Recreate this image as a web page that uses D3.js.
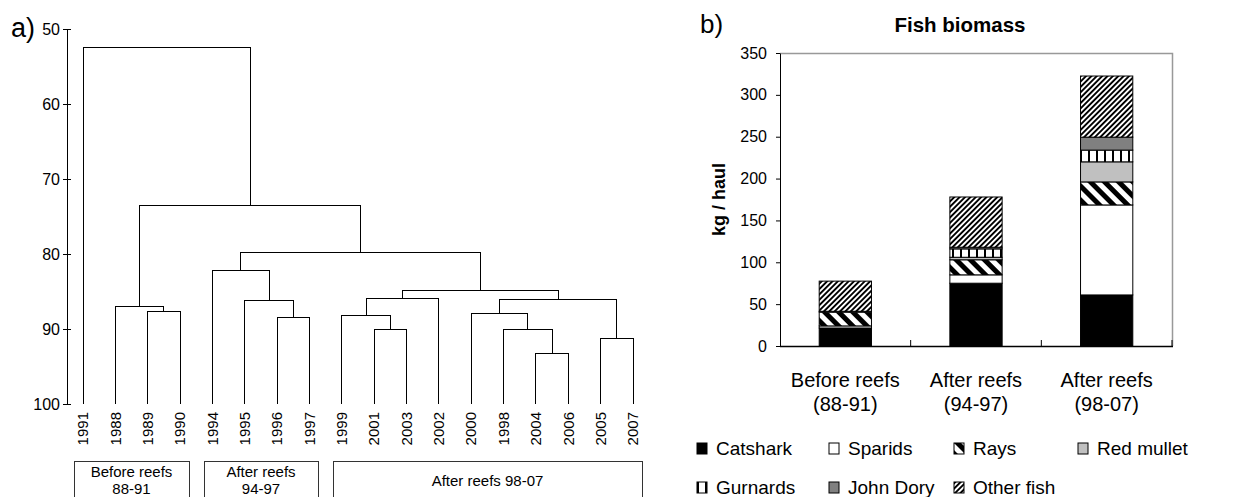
<!DOCTYPE html>
<html>
<head>
<meta charset="utf-8">
<script src="https://cdn.jsdelivr.net/npm/d3@7"></script>
<style>
  body { margin: 0; background: #fff; }
  svg { font-family: "Liberation Sans", Arial, sans-serif; display: block; }
</style>
</head>
<body>
<script>
// ---- panel a) dendrogram data ----
const leaves = ["1991","1988","1989","1990","1994","1995","1996","1997","1999",
                "2001","2003","2002","2000","1998","2004","2006","2005","2007"]

// linkage: [childA, childB, height], new node ids start at leaves.length
const merges = [
    [2, 3, 87.6],
    [1, 18, 87.0],
    [6, 7, 88.5],
    [5, 20, 86.2],
    [4, 21, 82.2],
    [9, 10, 90.0],
    [8, 23, 88.2],
    [24, 11, 85.9],
    [14, 15, 93.2],
    [13, 26, 90.0],
    [12, 27, 87.9],
    [16, 17, 91.3],
    [28, 29, 86.0],
    [25, 30, 84.8],
    [22, 31, 79.8],
    [19, 32, 73.5],
    [0, 33, 52.5]
]

const dendroTicks = [50, 60, 70, 80, 90, 100]
const groupLabels = [["Before reefs", "88-91"], ["After reefs", "94-97"], ["After reefs 98-07"]]
const groupLeaves = [[0, 3], [4, 7], [8, 17]]

// ---- panel b) biomass data ----
const periods = ["Before reefs", "After reefs", "After reefs"]
const periodYears = ["(88-91)", "(94-97)", "(98-07)"]
const species = ["Catshark", "Sparids", "Rays", "Red mullet", "Gurnards", "John Dory", "Other fish"]
const catshark  = [21.5, 75, 61]
const sparids   = [2.5, 10, 107.5]
const rays      = [16.5, 18, 27.5]
const redMullet = [0, 3, 24]
const gurnards  = [1, 10, 14]
const johnDory  = [0, 2, 15.5]
const otherFish = [36, 60, 73]
const biomassTicks = [0, 50, 100, 150, 200, 250, 300, 350]

const W = 1248, H = 497
const svg = d3.select("body").append("svg").attr("width", W).attr("height", H)

// patterns
const defs = svg.append("defs")
function stripes(id, period, width, angle){
    let p = defs.append("pattern")
        .attr("id", id)
        .attr("patternUnits", "userSpaceOnUse")
        .attr("width", period).attr("height", 20)
        .attr("patternTransform", `rotate(${angle})`)
    p.append("rect").attr("width", period).attr("height", 20).attr("fill", "#fff")
    p.append("rect").attr("width", width).attr("height", 20).attr("fill", "#000")
}
stripes("rays", 10, 5, -45)
stripes("other", 3.8, 1.9, 45)
stripes("gurn", 8, 2, 0)

const fills = {
    "Catshark": "#000",
    "Sparids": "#fff",
    "Rays": "url(#rays)",
    "Red mullet": "#c0c0c0",
    "Gurnards": "url(#gurn)",
    "John Dory": "#808080",
    "Other fish": "url(#other)"
}

// ================= a) dendrogram =================
const ga = svg.append("g")
const yD = d3.scaleLinear().domain([50, 100]).range([29, 404])
const xD = d3.scalePoint().domain(d3.range(leaves.length)).range([83, 633])

ga.append("text").attr("x", 11).attr("y", 37)
    .attr("font-size", 27).text("a)")

let axA = ga.append("g").attr("transform", "translate(67,0)")
    .call(d3.axisLeft(yD).tickValues(dendroTicks).tickSize(4).tickSizeOuter(0).tickPadding(3))
axA.selectAll(".tick line").attr("x2", 4).attr("x1", -4)
axA.selectAll("text").attr("font-size", 16).attr("fill", "#000")
axA.select(".domain").attr("stroke", "#000")

// node positions
let nodes = leaves.map((d, i) => ({x: xD(i), h: 100}))
merges.forEach(([a, b, h]) => {
    nodes.push({x: (nodes[a].x + nodes[b].x) / 2, h: h})
})

const links = ga.append("g")
    .attr("fill", "none").attr("stroke", "#000").attr("stroke-width", 1)
    .attr("shape-rendering", "crispEdges")
merges.forEach(([a, b, h]) => {
    let A = nodes[a], B = nodes[b]
    links.append("path")
        .attr("d", `M${A.x},${yD(A.h)}V${yD(h)}H${B.x}V${yD(B.h)}`)
})

ga.append("g").selectAll("text")
    .data(leaves)
    .join("text")
        .attr("transform", (d, i) => `translate(${xD(i)},412) rotate(-90)`)
        .attr("dy", "0.35em")
        .attr("text-anchor", "end")
        .attr("font-size", 15)
        .text(d => d)

// period boxes under the leaves
const boxes = ga.append("g")
const pad = xD.step() * 0.27
groupLeaves.forEach(([i0, i1], k) => {
    let x0 = Math.round(xD(i0) - pad), x1 = Math.round(xD(i1) + pad)
    boxes.append("rect")
        .attr("x", x0 + 0.5).attr("y", 461.5)
        .attr("width", x1 - x0).attr("height", 60)
        .attr("fill", "none").attr("stroke", "#333").attr("stroke-width", 1)
    let lines = groupLabels[k]
    let cx = (x0 + x1) / 2
    let t = boxes.append("text").attr("text-anchor", "middle").attr("font-size", 15)
    if (lines.length == 2){
        t.append("tspan").attr("x", cx).attr("y", 477).text(lines[0])
        t.append("tspan").attr("x", cx).attr("y", 494).text(lines[1])
    } else {
        t.attr("x", cx).attr("y", 486).text(lines[0])
    }
})

// ================= b) stacked bars =================
const gb = svg.append("g")
const pLeft = 780, pRight = 1172, pTop = 53, pBottom = 346

const xB = d3.scaleBand().domain(d3.range(periods.length))
    .range([pLeft, pRight]).paddingInner(0.6).paddingOuter(0.3)
const yB = d3.scaleLinear().domain([0, 350]).range([pBottom, pTop])

gb.append("text").attr("x", 700).attr("y", 33).attr("font-size", 26).text("b)")
gb.append("text").attr("x", 960).attr("y", 32).attr("text-anchor", "middle")
    .attr("font-size", 20.5).attr("font-weight", "bold").text("Fish biomass")
gb.append("text")
    .attr("transform", `translate(725,${(pTop + pBottom) / 2}) rotate(-90)`)
    .attr("text-anchor", "middle").attr("font-size", 18).attr("font-weight", "bold")
    .text("kg / haul")

// top and right frame
gb.append("path")
    .attr("d", `M${pLeft},${pTop + 0.5}H${pRight + 0.5}V${pBottom}`)
    .attr("fill", "none").attr("stroke", "#999").attr("stroke-width", 1.5)

const rows = periods.map((p, i) => ({
    "Catshark": catshark[i], "Sparids": sparids[i], "Rays": rays[i],
    "Red mullet": redMullet[i], "Gurnards": gurnards[i], "John Dory": johnDory[i],
    "Other fish": otherFish[i]
}))
const stacked = d3.stack().keys(species)(rows)

gb.append("g").selectAll("g")
    .data(stacked)
    .join("g")
        .attr("fill", d => fills[d.key])
    .selectAll("rect")
    .data(d => d.map((s, i) => ({s, i})).filter(o => o.s[1] - o.s[0] > 0))
    .join("rect")
        .attr("x", o => xB(o.i))
        .attr("y", o => yB(o.s[1]))
        .attr("width", xB.bandwidth())
        .attr("height", o => yB(o.s[0]) - yB(o.s[1]))
        .attr("stroke", "#000").attr("stroke-width", 1)

// y axis
let axB = gb.append("g").attr("transform", `translate(${pLeft},0)`)
    .call(d3.axisLeft(yB).tickValues(biomassTicks).tickSize(4).tickSizeOuter(0).tickPadding(9))
axB.selectAll("text").attr("font-size", 16).attr("fill", "#000")

// x axis with inward ticks at band boundaries
gb.append("line").attr("x1", pLeft).attr("x2", pRight + 1)
    .attr("y1", pBottom + 0.5).attr("y2", pBottom + 0.5).attr("stroke", "#000").attr("stroke-width", 1.5)
gb.append("g").selectAll("line")
    .data(d3.range(1, periods.length + 1))
    .join("line")
        .attr("x1", i => pLeft + xB.step() * i).attr("x2", i => pLeft + xB.step() * i)
        .attr("y1", pBottom).attr("y2", pBottom - 6)
        .attr("stroke", "#000")

const catLabels = gb.append("g").attr("font-size", 20).attr("text-anchor", "middle")
periods.forEach((p, i) => {
    let cx = xB(i) + xB.bandwidth() / 2
    catLabels.append("text").attr("x", cx).attr("y", 387).text(p)
    catLabels.append("text").attr("x", cx).attr("y", 411).text(periodYears[i])
})

// legend
const legX = [697, 829, 954, 1078]
const leg = gb.append("g").selectAll("g")
    .data(species)
    .join("g")
        .attr("transform", (d, i) => `translate(${legX[i % 4]},${443 + Math.floor(i / 4) * 39})`)
leg.append("rect")
    .attr("width", 10).attr("height", 11)
    .attr("fill", d => fills[d]).attr("stroke", "#000").attr("stroke-width", 1)
leg.append("text")
    .attr("x", 19).attr("y", 12)
    .attr("font-size", 19)
    .text(d => d)
</script>
</body>
</html>
